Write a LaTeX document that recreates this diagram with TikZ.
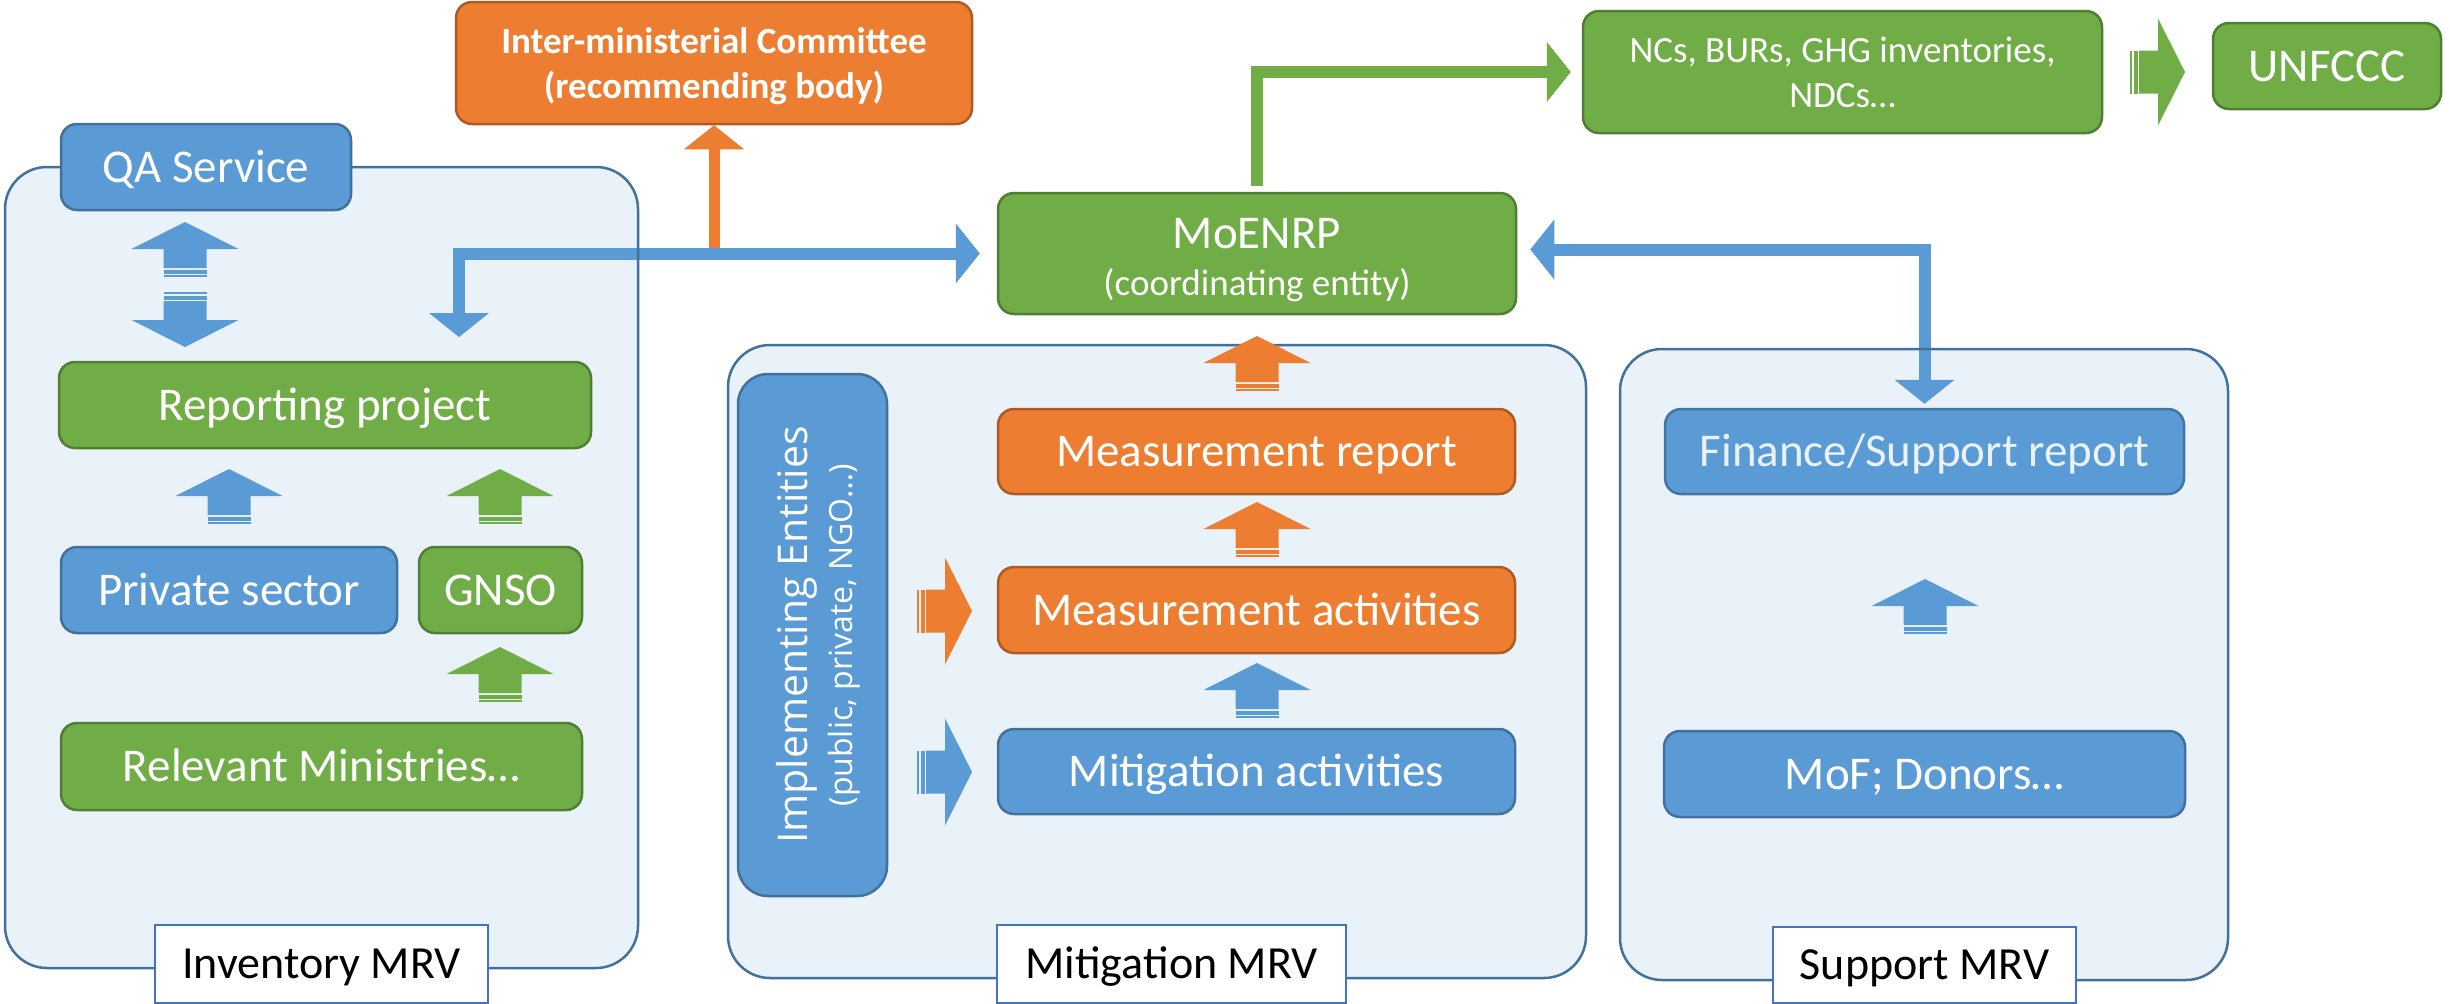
\documentclass[tikz,border=0pt]{standalone}
\usepackage{fontspec}
\setmainfont{Carlito}
\newfontfamily\opensansfam{Open Sans}
\usetikzlibrary{arrows.meta}
\definecolor{cblue}{HTML}{5B9BD5}
\definecolor{cblueD}{HTML}{41719C}
\definecolor{cgreen}{HTML}{70AD47}
\definecolor{cgreenD}{HTML}{507E32}
\definecolor{corange}{HTML}{ED7D31}
\definecolor{corangeD}{HTML}{AE5A21}
\definecolor{cpanelD}{HTML}{41719C}
\definecolor{clabD}{HTML}{4472C4}
\newcommand\fsz[2]{\fontsize{#1}{#2}\selectfont}
\tikzset{
  bt/.tip={Triangle[length=24pt,width=60pt,line width=0pt]},
  box/.style={draw, line width=2.5pt, rounded corners=16pt, inner sep=0pt,
    align=center, text=white, font=\fsz{47}{56}, text height=30pt, text depth=0pt},
  mbox/.style={box, text height={}, text depth={}},
  bluebox/.style={fill=cblue, draw=cblueD},
  greenbox/.style={fill=cgreen, draw=cgreenD},
  orangebox/.style={fill=corange, draw=corangeD},
  panel/.style={draw=cpanelD, fill=cblue, fill opacity=0.13, draw opacity=1,
    line width=2.5pt, rounded corners=42pt, inner sep=0pt},
  mrvlabel/.style={draw=clabD, fill=white, line width=2.5pt, inner sep=0pt,
    text=black, font=\fsz{46}{56}, text height=29.6pt, text depth=0pt},
  conn/.style={line width=12pt},
  sarrow/.pic={
    \fill (0,-21.5) rectangle (2,21.5);
    \fill (3.5,-21.5) rectangle (7.5,21.5);
    \fill (9,-21.5) -- (28,-21.5) -- (28,-53.5) -- (55,0) -- (28,53.5)
      -- (28,21.5) -- (9,21.5) -- cycle;
  }
}
\begin{document}
\begin{tikzpicture}[x=1pt,y=-1pt]
\fill[white] (0,0) rectangle (2450,1004);
\useasboundingbox (0,0) rectangle (2450,1004);

% ---------- main boxes (named first for connector anchors) ----------
\path
  node[mbox, orangebox, minimum width=516pt, minimum height=122pt,
       font=\bfseries\fsz{37}{45}] (inter) at (714,63)
      {\rule{0pt}{35pt}Inter-ministerial Committee\\(recommending body)\rule[-10pt]{0pt}{10pt}}
  node[mbox, greenbox, minimum width=518pt, minimum height=121pt,
       font=\fsz{37}{47}] (moe) at (1257,253.5)
      {{\fsz{47}{47}\rule{0pt}{46pt}MoENRP}\\(coordinating entity)\rule[-10pt]{0pt}{10pt}}
  node[mbox, greenbox, minimum width=519pt, minimum height=122pt,
       font=\fsz{37}{45}] (ncs) at (1842.5,72)
      {\rule{0pt}{33pt}NCs, BURs, GHG inventories,\\NDCs…\rule[-8pt]{0pt}{8pt}}
  node[box, bluebox, minimum width=519pt, minimum height=85pt] (fin) at (1924.5,451.5)
      {Finance/Support report};

% ---------- connectors ----------
\coordinate (ojoin) at (inter.south |- moe.west);
\coordinate (qadrop) at (459,337);
\draw[conn, line width=11pt, draw=corange, -bt] (ojoin) -- (inter.south);
\draw[conn, draw=cblue, bt-bt] (qadrop) |- ([xshift=-17pt]moe.west);
\draw[conn, draw=cgreen, -bt] ([yshift=6pt]moe.north) |- ([xshift=-11pt]ncs.west);
\draw[conn, draw=cblue, bt-bt] ([xshift=13pt,yshift=4pt]moe.east) -| ([yshift=4pt]fin.north);

% ---------- panels ----------
\node[panel, minimum width=633pt, minimum height=801pt] (invp) at (321.5,567.5) {};
\node[panel, minimum width=858pt, minimum height=633pt] (mitp) at (1157,661.5) {};
\node[panel, minimum width=608pt, minimum height=631pt] (supp) at (1924,664.5) {};

\node[mrvlabel, minimum width=333pt, minimum height=78pt] (invl) at (321.5,964) {Inventory MRV};
\node[mrvlabel, minimum width=349pt, minimum height=78pt] (mitl) at (1171.5,964) {Mitigation MRV};
\node[mrvlabel, minimum width=303pt, minimum height=76pt] (supl) at (1924.5,965) {Support MRV};

% ---------- block arrows ----------
\path (185,277) pic[color=cblue, rotate=90] {sarrow};
\path (185,292) pic[color=cblue, rotate=-90] {sarrow};
\path (229,524) pic[color=cblue, rotate=90] {sarrow};
\path (500,524) pic[color=cgreen, rotate=90] {sarrow};
\path (500,702) pic[color=cgreen, rotate=90] {sarrow};
\path (1257,391) pic[color=corange, rotate=90] {sarrow};
\path (1257,557) pic[color=corange, rotate=90] {sarrow};
\path (1257,718) pic[color=cblue, rotate=90] {sarrow};
\path (917,611) pic[color=corange] {sarrow};
\path (917,772) pic[color=cblue] {sarrow};
\path (2130,72) pic[color=cgreen] {sarrow};
\path (1925,634) pic[color=cblue, rotate=90] {sarrow};

% ---------- inner boxes ----------
\node[box, bluebox, minimum width=290pt, minimum height=86pt] (qa) at (206,167) {QA Service};
\node[box, greenbox, minimum width=532pt, minimum height=86pt] (rep) at (325,405) {Reporting project};
\node[box, bluebox, minimum width=336pt, minimum height=86pt] (priv) at (229,590) {Private sector};
\node[box, greenbox, minimum width=163pt, minimum height=86pt] (gnso) at (500.5,590) {GNSO};
\node[box, greenbox, minimum width=521pt, minimum height=87pt] (rel) at (321.5,766.5) {Relevant Ministries…};
\node[box, greenbox, minimum width=228pt, minimum height=86pt] (unf) at (2327,66) {UNFCCC};

\node[mbox, bluebox, rotate=90, rounded corners=30pt, minimum width=522pt, minimum height=149pt,
      font=\opensansfam\fsz{32}{45}] (impl) at (812.5,635)
      {{\fsz{41}{45}\rule{0pt}{42pt}Implementing Entities}\\(public, private, NGO…)};
\node[box, orangebox, minimum width=517pt, minimum height=85pt] (mrep) at (1256.5,451.5) {Measurement report};
\node[box, orangebox, minimum width=517pt, minimum height=86pt] (mact) at (1256.5,610) {Measurement activities};
\node[box, bluebox, minimum width=517pt, minimum height=85pt] (mitg) at (1256.5,771.5) {Mitigation activities};
\node[box, bluebox, minimum width=521pt, minimum height=86pt] (mof) at (1924.5,774) {MoF; Donors…};
\end{tikzpicture}
\end{document}
